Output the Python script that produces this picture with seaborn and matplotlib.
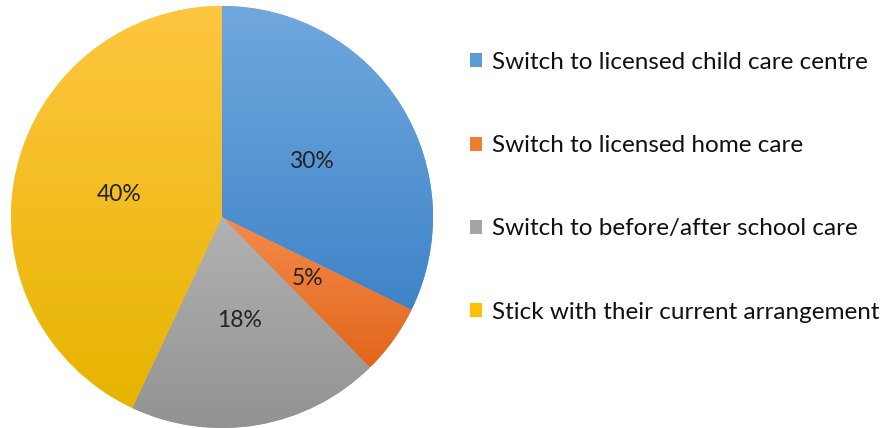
import numpy as np
import matplotlib
matplotlib.use("Agg")
import matplotlib.pyplot as plt
from matplotlib.colors import LinearSegmentedColormap, to_rgb
from matplotlib.patches import Rectangle
import seaborn as sns

categories = [
    "Switch to licensed child care centre",
    "Switch to licensed home care",
    "Switch to before/after school care",
    "Stick with their current arrangement",
]
values = [30, 5, 18, 40]
top_colors = ["#70a8de", "#f38b4c", "#b2b2b2", "#ffc640"]
bottom_colors = ["#3f84c8", "#e2661a", "#929292", "#e6b400"]
mid_colors = ["#5b9bd5", "#ed7d31", "#a5a5a5", "#ffc000"]

sns.set_theme(style="white")
plt.rcParams["font.family"] = ["Lato", "DejaVu Sans"]

W, H = 892, 428
fig = plt.figure(figsize=(W / 100, H / 100), dpi=100)
cx, cy, r = 222, 211, 211
ax = fig.add_axes([(cx - r) / W, (cy - r) / H, 2 * r / W, 2 * r / H])

total = sum(values)
wedges, texts, autotexts = ax.pie(
    values,
    colors=mid_colors,
    startangle=90,
    counterclock=False,
    radius=1.0,
    autopct=lambda p: f"{round(p * total / 100)}%",
    pctdistance=0.5,
    textprops=dict(fontsize=16.5, color="#222222"),
    wedgeprops=dict(linewidth=0),
)
for t in autotexts:
    t.set_zorder(10)

for w, ct, cb in zip(wedges, top_colors, bottom_colors):
    bb = w.get_path().get_extents()
    cmap = LinearSegmentedColormap.from_list("g", [to_rgb(cb), to_rgb(ct)])
    grad = np.linspace(0, 1, 256).reshape(-1, 1)
    im = ax.imshow(grad, cmap=cmap, origin="lower", aspect="auto",
                   extent=[bb.x0, bb.x1, bb.y0, bb.y1], zorder=3,
                   interpolation="bilinear")
    im.set_clip_path(w)

ax.set_xlim(-1, 1)
ax.set_ylim(-1, 1)
ax.set_aspect("equal")
ax.axis("off")

handles = [Rectangle((0, 0), 1, 1, facecolor=c, edgecolor="none") for c in mid_colors]
leg = fig.legend(
    handles, categories,
    loc="upper left",
    bbox_to_anchor=(470 / W, 1 - 52 / H),
    frameon=False,
    fontsize=17.5,
    handlelength=0.5,
    handleheight=0.5,
    handletextpad=0.4,
    labelspacing=2.56,
    borderpad=0,
    borderaxespad=0,
    labelcolor="#111111",
)

fig.savefig("out.png", dpi=100, facecolor="white")
